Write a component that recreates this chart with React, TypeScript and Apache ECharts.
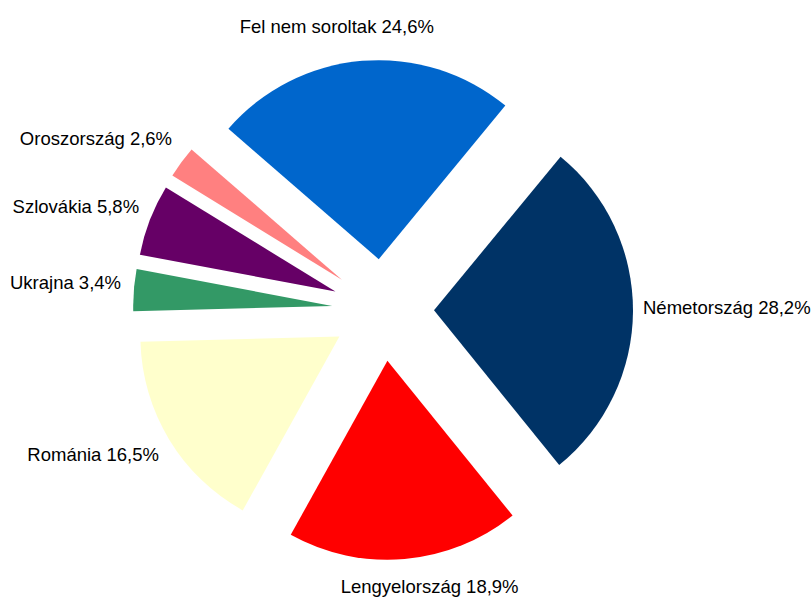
import { useEffect, useRef } from 'react';
import * as echarts from 'echarts';

const categories = ['Németország', 'Lengyelország', 'Románia', 'Ukrajna', 'Szlovákia', 'Oroszország', 'Fel nem soroltak'];
const shares = [28.2, 18.9, 16.5, 3.4, 5.8, 2.6, 24.6];
const colors = ['#003366', '#FF0000', '#FFFFCC', '#339966', '#660066', '#FF8080', '#0066CC'];

// layout constants (not data)
const CX = 383;
const CY = 310;
const RADIUS = 199;
const EXPLODE = 51;
const START_ANGLE = 50.5;
const LABEL_DIST = 265;
const FONT_SIZE = 18.5;
const FONT_FAMILY = '"Liberation Sans", Arial, sans-serif';
const LINE_H = 20;
// small per-label nudges mimicking the original's best-fit label placement
const labelNudge = [
  [-5, -4],
  [16, 3],
  [-7, 2],
  [2, -6],
  [-1, -4],
  [-12, -9],
  [-16, -9],
];

const fmt = (name: string, v: number) => `${name} ${v.toFixed(1).replace('.', ',')}%`;

export default function App() {
  const ref = useRef<HTMLDivElement>(null);
  useEffect(() => {
    const chart = echarts.init(ref.current!, null, { renderer: 'svg' });
    const total = shares.reduce((a, b) => a + b, 0);
    const mids: number[] = [];
    let acc = START_ANGLE;
    shares.forEach((v) => {
      const span = (v / total) * 360;
      mids.push(acc - span / 2);
      acc -= span;
    });
    const ctx = document.createElement('canvas').getContext('2d')!;
    ctx.font = `${FONT_SIZE}px ${FONT_FAMILY}`;
    const labels = categories.map((name, i) => {
      const text = fmt(name, shares[i]);
      const w = ctx.measureText(text).width;
      const a = (mids[i] * Math.PI) / 180;
      const dx = Math.cos(a);
      const dy = -Math.sin(a);
      return {
        type: 'text',
        x: CX + dx * LABEL_DIST + (dx * w) / 2 + labelNudge[i][0],
        y: CY + dy * LABEL_DIST + (dy * LINE_H) / 2 + labelNudge[i][1],
        silent: true,
        style: {
          text,
          fill: '#000',
          fontSize: FONT_SIZE,
          fontFamily: FONT_FAMILY,
          align: 'center',
          verticalAlign: 'middle',
        },
      };
    });
    chart.setOption({
      animation: false,
      graphic: labels,
      series: [
        {
          type: 'pie',
          center: [CX, CY],
          radius: RADIUS,
          startAngle: START_ANGLE,
          clockwise: true,
          selectedMode: 'multiple',
          selectedOffset: EXPLODE,
          avoidLabelOverlap: false,
          emphasis: { disabled: true },
          itemStyle: { borderWidth: 0 },
          label: { show: false },
          labelLine: { show: false },
          data: categories.map((name, i) => ({
            name,
            value: shares[i],
            selected: true,
            itemStyle: { color: colors[i] },
          })),
        },
      ],
    });
    return () => chart.dispose();
  }, []);
  return <div ref={ref} style={{ position: 'absolute', left: 0, top: 0, width: 812, height: 599 }} />;
}
